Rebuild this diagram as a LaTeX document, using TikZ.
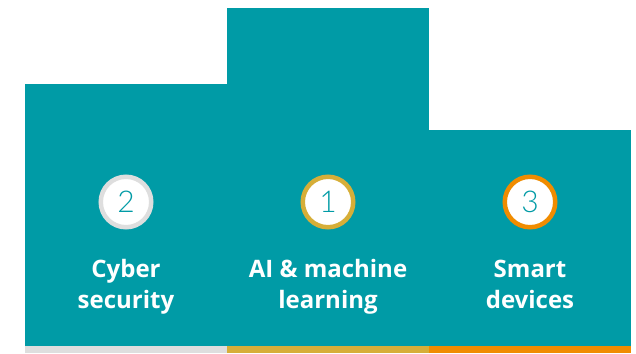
\documentclass[tikz,border=0pt]{standalone}
\usepackage{fontspec}
\usepackage{tikz}
\setmainfont{Open Sans}
\newfontfamily\numfont{Lato Light}
\definecolor{podteal}{HTML}{009BA6}
\definecolor{podgray}{HTML}{DEDEDE}
\definecolor{podgold}{HTML}{D6AE38}
\definecolor{podorange}{HTML}{F08C00}
\tikzset{
	numring/.style={circle, fill=white, line width=4.5pt, minimum size=50.5pt, inner sep=0pt,
		text=podteal, font=\numfont\fontsize{30}{30}\selectfont},
	steptext/.style={text=white, align=center, anchor=base,
		font=\bfseries\fontsize{24}{31}\selectfont}
}
% one step of the podium: name, left x, top y, ring colour, number, text
\newcommand{\podiumstep}[6]{
	\fill[podteal] (#2,#3) rectangle (#2+202,346);
	\fill[#4] (#2,346) rectangle (#2+202,353);
	\node[numring, draw=#4] (#1num) at (#2+101,202) {#5};
	\node[steptext] (#1txt) at (#2+101,308) {#6};
}

\begin{document}
\begin{tikzpicture}[x=1pt, y=-1pt]
			\useasboundingbox (0,0) rectangle (636,353);
			% Steps, left to right
			\podiumstep{cyber}{25}{84}{podgray}{2}{Cyber\\security}
			\podiumstep{ai}{227}{8}{podgold}{1}{AI \& machine\\learning}
			\podiumstep{smart}{429}{130}{podorange}{3}{Smart\\devices}
\end{tikzpicture}
\end{document}
